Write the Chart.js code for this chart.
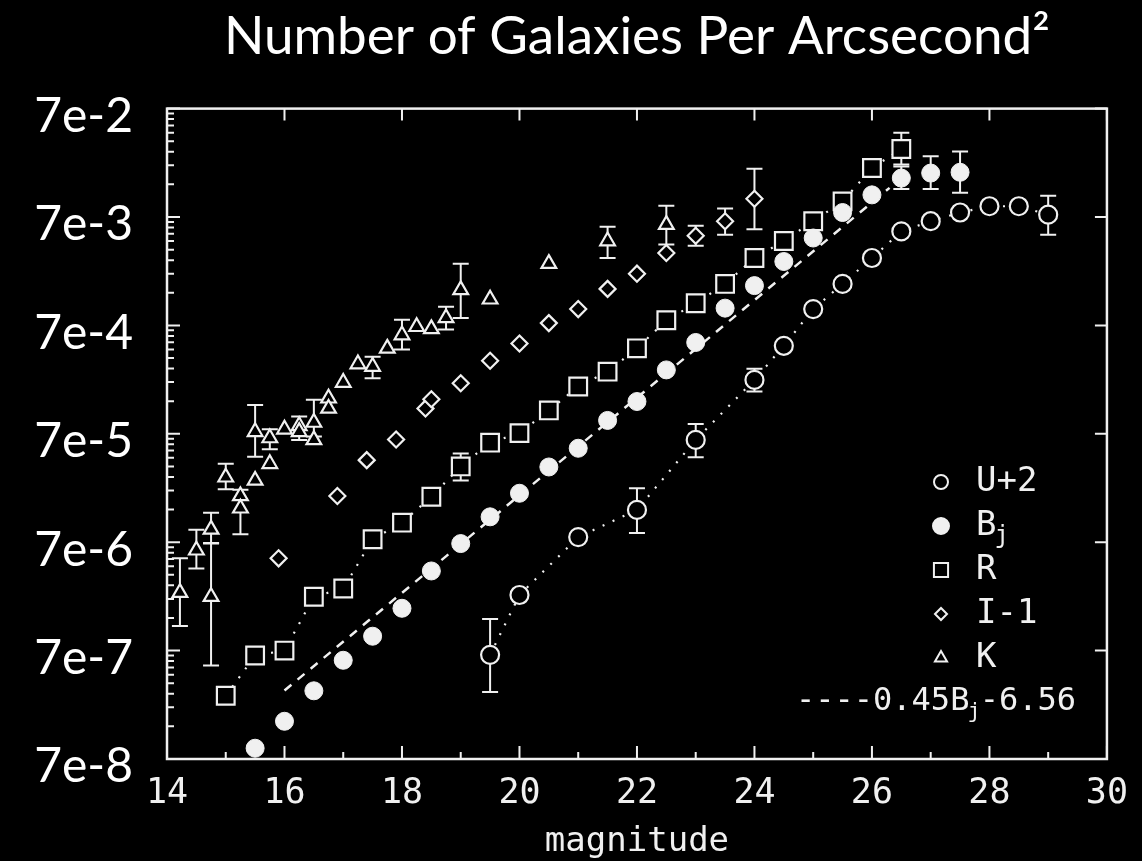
<!DOCTYPE html>
<html>
<head>
<meta charset="utf-8">
<script src="https://cdn.jsdelivr.net/npm/chart.js@4.4.0/dist/chart.umd.min.js"></script>
<style>
  html, body { margin: 0; padding: 0; background: #000; }
</style>
</head>
<body>
<canvas id="countsChart" width="1142" height="861"></canvas>
<script>
// axis ticks
var xTicks = [14, 16, 18, 20, 22, 24, 26, 28, 30];
var yTicks = [7e-8, 7e-7, 7e-6, 7e-5, 7e-4, 7e-3, 7e-2];
var yTickLabels = ['7e-8', '7e-7', '7e-6', '7e-5', '7e-4', '7e-3', '7e-2'];

// U+2 (open circles)
var uMag = [19.5, 20, 21, 22, 23, 24, 24.5, 25, 25.5, 26, 26.5, 27, 27.5, 28, 28.5, 29];
var uCounts = [6.4e-7, 2.28e-6, 7.8e-6, 1.39e-5, 6.15e-5, 2.2e-4, 4.54e-4, 9.9e-4, 1.69e-3, 2.93e-3, 5.15e-3, 6.4e-3, 7.7e-3, 8.8e-3, 8.8e-3, 7.35e-3];
var uErrLow = [2.9e-7, null, null, 8.5e-6, 4.26e-5, 1.72e-4, null, null, null, null, null, null, null, null, null, 4.8e-3];
var uErrHigh = [1.37e-6, null, null, 2.2e-5, 8.6e-5, 2.78e-4, null, null, null, null, null, null, null, null, null, 1.1e-2];

// Bj (filled circles)
var bMag = [15.5, 16, 16.5, 17, 17.5, 18, 18.5, 19, 19.5, 20, 20.5, 21, 21.5, 22, 22.5, 23, 23.5, 24, 24.5, 25, 25.5, 26, 26.5, 27, 27.5];
var bCounts = [8.8e-8, 1.56e-7, 2.98e-7, 5.7e-7, 9.5e-7, 1.72e-6, 3.8e-6, 6.8e-6, 1.2e-5, 1.98e-5, 3.46e-5, 5.15e-5, 9.3e-5, 1.39e-4, 2.72e-4, 4.87e-4, 1.01e-3, 1.63e-3, 2.72e-3, 4.48e-3, 7.7e-3, 1.12e-2, 1.6e-2, 1.78e-2, 1.81e-2];
var bErrLow = [null, null, null, null, null, null, null, null, null, null, null, null, null, null, null, null, null, null, null, null, null, null, 1.27e-2, 1.27e-2, 1.17e-2];
var bErrHigh = [null, null, null, null, null, null, null, null, null, null, null, null, null, null, null, null, null, null, null, null, null, null, 2.05e-2, 2.54e-2, 2.82e-2];

// R (squares)
var rMag = [15, 15.5, 16, 16.5, 17, 17.5, 18, 18.5, 19, 19.5, 20, 20.5, 21, 21.5, 22, 22.5, 23, 23.5, 24, 24.5, 25, 25.5, 26, 26.5];
var rCounts = [2.68e-7, 6.3e-7, 7.0e-7, 2.2e-6, 2.62e-6, 7.45e-6, 1.06e-5, 1.84e-5, 3.5e-5, 5.8e-5, 7.1e-5, 1.15e-4, 1.91e-4, 2.62e-4, 4.3e-4, 7.8e-4, 1.12e-3, 1.69e-3, 2.93e-3, 4.2e-3, 6.4e-3, 9.75e-3, 1.98e-2, 2.97e-2];
var rErrLow = [null, null, null, null, null, null, null, null, 2.6e-5, null, null, null, null, null, null, null, null, null, null, null, null, null, null, 2.13e-2];
var rErrHigh = [null, null, null, null, null, null, null, null, 4.6e-5, null, null, null, null, null, null, null, null, null, null, null, null, null, null, 4.2e-2];

// I-1 (diamonds)
var iMag = [15.9, 16.9, 17.4, 17.9, 18.4, 18.5, 19, 19.5, 20, 20.5, 21, 21.5, 22, 22.5, 23, 23.5, 24];
var iCounts = [4.97e-6, 1.87e-5, 4.0e-5, 6.2e-5, 1.2e-4, 1.46e-4, 2.05e-4, 3.3e-4, 4.77e-4, 7.35e-4, 9.9e-4, 1.52e-3, 2.1e-3, 3.26e-3, 4.7e-3, 6.4e-3, 1.03e-2];
var iErrLow = [null, null, null, null, null, null, null, null, null, null, null, null, null, null, 3.8e-3, 4.8e-3, 5.4e-3];
var iErrHigh = [null, null, null, null, null, null, null, null, null, null, null, null, null, null, 5.8e-3, 8.4e-3, 1.95e-2];

// K (triangles)
var kMag = [14.22, 14.5, 14.75, 14.75, 15, 15.25, 15.25, 15.5, 15.5, 15.75, 15.75, 16, 16.25, 16.25, 16.5, 16.5, 16.75, 16.75, 17, 17.25, 17.5, 17.75, 18, 18.25, 18.5, 18.75, 19, 19.5, 20.5, 21.5, 22.5];
var kCounts = [2.4e-6, 5.9e-6, 9.2e-6, 2.2e-6, 2.78e-5, 1.87e-5, 1.44e-5, 2.6e-5, 7.3e-5, 6.4e-5, 3.7e-5, 7.7e-5, 8.3e-5, 7.3e-5, 8.9e-5, 6.15e-5, 1.49e-4, 1.2e-4, 2.08e-4, 3.08e-4, 2.92e-4, 4.3e-4, 5.7e-4, 6.8e-4, 6.5e-4, 8.2e-4, 1.49e-3, 1.22e-3, 2.6e-3, 4.2e-3, 5.95e-3];
var kErrLow = [1.18e-6, 4.0e-6, 6.8e-6, 5.1e-7, 2.15e-5, null, 8.3e-6, null, 4.3e-5, 5.05e-5, null, null, 6.15e-5, null, 6.6e-5, null, null, null, null, null, 2.28e-4, null, 4.2e-4, null, null, 6.4e-4, 8.2e-4, null, null, 2.93e-3, 3.9e-3];
var kErrHigh = [4.97e-6, 9.1e-6, 1.31e-5, 6.9e-6, 3.7e-5, null, 2.13e-5, null, 1.29e-4, 7.7e-5, null, null, 1.01e-4, null, 1.44e-4, null, null, null, null, null, 3.6e-4, null, 7.9e-4, null, null, 1.04e-3, 2.6e-3, null, null, 5.7e-3, 8.9e-3];

// fitted line 0.45Bj-6.56 (end points)
var fitMag = [16, 26.3];
var fitCounts = [3.0e-7, 1.3e-2];

var ink = '#f0f0f0';
var scanFont = '"DejaVu Sans Mono", "Liberation Mono", monospace';

function pts(xs, ys) {
    return xs.map(function (x, i) { return { x: x, y: ys[i] }; });
}

var errorBars = {
    id: 'errorBars',
    beforeDatasetsDraw: function (chart) {
        var ctx = chart.ctx, xs = chart.scales.x, ys = chart.scales.y;
        ctx.save();
        ctx.strokeStyle = ink;
        ctx.lineWidth = 2;
        chart.data.datasets.forEach(function (ds) {
            if (!ds.errLow) return;
            ds.data.forEach(function (p, j) {
                if (ds.errLow[j] == null) return;
                var x = xs.getPixelForValue(p.x);
                var y1 = ys.getPixelForValue(ds.errLow[j]);
                var y2 = ys.getPixelForValue(ds.errHigh[j]);
                ctx.beginPath();
                ctx.moveTo(x, y1); ctx.lineTo(x, y2);
                ctx.moveTo(x - 8, y1); ctx.lineTo(x + 8, y1);
                ctx.moveTo(x - 8, y2); ctx.lineTo(x + 8, y2);
                ctx.stroke();
            });
        });
        ctx.restore();
    }
};

var frame = {
    id: 'frame',
    afterDraw: function (chart) {
        var ctx = chart.ctx, a = chart.chartArea, xs = chart.scales.x, ys = chart.scales.y;
        ctx.save();
        ctx.strokeStyle = ink;
        ctx.lineWidth = 2.5;
        ctx.strokeRect(a.left, a.top, a.right - a.left, a.bottom - a.top);
        ctx.lineWidth = 2;
        ctx.beginPath();
        for (var m = 14; m <= 30; m++) {
            var px = xs.getPixelForValue(m);
            var len = (m % 2 === 0) ? 13 : 7;
            ctx.moveTo(px, a.bottom); ctx.lineTo(px, a.bottom - len);
            if (m % 2 === 0) { ctx.moveTo(px, a.top); ctx.lineTo(px, a.top + 12); }
        }
        yTicks.forEach(function (v) {
            var py = ys.getPixelForValue(v);
            ctx.moveTo(a.left, py); ctx.lineTo(a.left + 13, py);
            ctx.moveTo(a.right, py); ctx.lineTo(a.right - 12, py);
            for (var k = 2; k <= 9; k++) {
                var mv = v * k;
                if (mv >= 7e-2) break;
                var pm = ys.getPixelForValue(mv);
                ctx.moveTo(a.left, pm); ctx.lineTo(a.left + 7, pm);
            }
        });
        ctx.stroke();
        ctx.restore();
    }
};

function drawParts(ctx, parts, x, y, size) {
    parts.forEach(function (p) {
        if (p.sub) {
            ctx.font = Math.round(size * 0.7) + 'px ' + scanFont;
            ctx.fillText(p.t, x - 2, y + size * 0.32);
        } else {
            ctx.font = size + 'px ' + scanFont;
            ctx.fillText(p.t, x, y);
        }
        x += ctx.measureText(p.t).width - (p.sub ? 3 : 0);
    });
}

var legendRows = [
    { ds: 0, parts: [{ t: 'U+2' }], r: 7 },
    { ds: 1, parts: [{ t: 'B' }, { t: 'j', sub: true }], r: 8 },
    { ds: 2, parts: [{ t: 'R' }], r: 10 },
    { ds: 3, parts: [{ t: 'I-1' }], r: 6 },
    { ds: 4, parts: [{ t: 'K' }], r: 7 }
];

var boxLegend = {
    id: 'boxLegend',
    afterDraw: function (chart) {
        var ctx = chart.ctx;
        var symX = 941, textX = 976, y0 = 482, dy = 44;
        ctx.save();
        ctx.textBaseline = 'middle';
        legendRows.forEach(function (row, i) {
            var ds = chart.data.datasets[row.ds];
            var y = y0 + i * dy;
            ctx.strokeStyle = ds.borderColor;
            ctx.fillStyle = ds.backgroundColor;
            ctx.lineWidth = 2;
            Chart.helpers.drawPoint(ctx, { pointStyle: ds.pointStyle, radius: row.r, rotation: 0, borderWidth: 2 }, symX, y);
            ctx.fillStyle = ink;
            drawParts(ctx, row.parts, textX, y, 34);
        });
        ctx.fillStyle = ink;
        drawParts(ctx, [{ t: '----0.45B' }, { t: 'j', sub: true }, { t: '-6.56' }], 796, y0 + 5 * dy, 32);
        ctx.restore();
    }
};

var ctx = document.getElementById('countsChart');
var myChart = new Chart(ctx, {
    type: 'scatter',
    data: {
        datasets: [{
            label: 'U+2',
            data: pts(uMag, uCounts),
            errLow: uErrLow, errHigh: uErrHigh,
            pointStyle: 'circle', pointRadius: 9, borderWidth: 2.2,
            borderColor: ink, backgroundColor: '#000',
            showLine: true, borderDash: [2, 9],
            order: 2
        }, {
            label: 'Bj',
            data: pts(bMag, bCounts),
            errLow: bErrLow, errHigh: bErrHigh,
            pointStyle: 'circle', pointRadius: 9, borderWidth: 1,
            borderColor: ink, backgroundColor: ink,
            order: 1
        }, {
            label: 'R',
            data: pts(rMag, rCounts),
            errLow: rErrLow, errHigh: rErrHigh,
            pointStyle: 'rect', pointRadius: 12.5, borderWidth: 2.2,
            borderColor: ink, backgroundColor: '#000',
            showLine: true, borderDash: [2, 9],
            order: 3
        }, {
            label: 'I-1',
            data: pts(iMag, iCounts),
            errLow: iErrLow, errHigh: iErrHigh,
            pointStyle: 'rectRot', pointRadius: 8, borderWidth: 2.2,
            borderColor: ink, backgroundColor: '#000',
            order: 4
        }, {
            label: 'K',
            data: pts(kMag, kCounts),
            errLow: kErrLow, errHigh: kErrHigh,
            pointStyle: 'triangle', pointRadius: 8.5, borderWidth: 2.2,
            borderColor: ink, backgroundColor: '#000',
            order: 5
        }, {
            label: '0.45Bj-6.56',
            type: 'line',
            data: pts(fitMag, fitCounts),
            borderColor: ink, borderWidth: 2.5, borderDash: [9, 8],
            pointRadius: 0, fill: false,
            order: 0
        }]
    },
    options: {
        responsive: false,
        animation: false,
        layout: { padding: { left: 0, right: 27, top: 0, bottom: 0 } },
        plugins: {
            legend: { display: false },
            tooltip: { enabled: false },
            title: {
                display: true,
                text: 'Number of Galaxies Per Arcsecond\u00B2',
                color: '#ffffff',
                fullSize: false,
                font: { family: 'Lato', size: 53, weight: 'normal' },
                padding: { top: 5, bottom: 40 }
            }
        },
        scales: {
            x: {
                type: 'linear', min: 14, max: 30,
                afterBuildTicks: function (s) { s.ticks = xTicks.map(function (v) { return { value: v }; }); },
                afterFit: function (s) { s.height = 102; },
                grid: { display: false, drawTicks: false },
                border: { display: false },
                ticks: { color: ink, padding: 14, font: { family: scanFont, size: 35 }, callback: function (v) { return String(v); } },
                title: { display: true, text: 'magnitude', color: ink, font: { family: scanFont, size: 34, lineHeight: 1 }, padding: { top: 0, bottom: 2 } }
            },
            y: {
                type: 'logarithmic', min: 7e-8, max: 7e-2,
                afterBuildTicks: function (s) { s.ticks = yTicks.map(function (v) { return { value: v }; }); },
                afterFit: function (s) { s.width = 167; },
                grid: { display: false, drawTicks: false },
                border: { display: false },
                ticks: { color: '#ffffff', padding: 34, labelOffset: 8, font: { family: 'Lato', size: 48 }, callback: function (v, i) { return yTickLabels[i]; } }
            }
        }
    },
    plugins: [errorBars, frame, boxLegend]
});
</script>
</body>
</html>
